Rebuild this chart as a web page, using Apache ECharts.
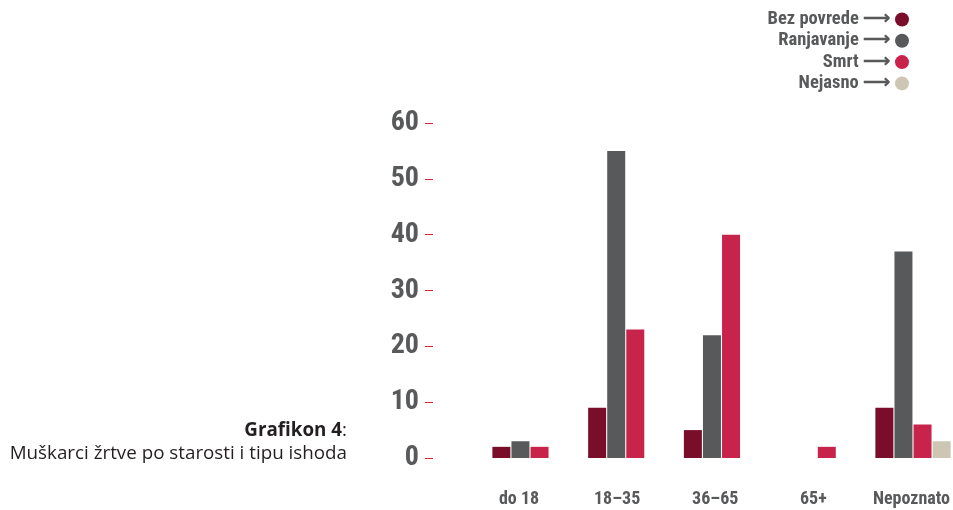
<!DOCTYPE html>
<html>
<head>
<meta charset="utf-8">
<script src="https://cdn.jsdelivr.net/npm/echarts@6/dist/echarts.min.js"></script>
<style>
  html, body { margin: 0; padding: 0; background: #fff; }
  #main { width: 953px; height: 510px; }
</style>
</head>
<body>
<div id="main"></div>
<script>
// kategorije (starost) i serije (ishod)
var categories = ['do 18', '18–35', '36–65', '65+', 'Nepoznato'];
var bezPovrede = [2, 9, 5, 0, 9];
var ranjavanje = [3, 55, 22, 0, 37];
var smrt = [2, 23, 40, 2, 6];
var nejasno = [0, 0, 0, 0, 3];
var yTicks = [0, 10, 20, 30, 40, 50, 60];

var colors = ['#7a0e2a', '#58595b', '#c8234a', '#cdc6b3'];
var condensed = '"Roboto Condensed", "Liberation Sans Narrow", Roboto, sans-serif';
var bodyFont = '"Open Sans", "Noto Sans", sans-serif';

var myChart = echarts.init(document.getElementById('main'));

function bar(name, data) {
    return {
        name: name,
        type: 'bar',
        data: data,
        barWidth: 18,
        barGap: '6%',
        clip: false,
        silent: true
    };
}

var option = {
    animation: false,
    color: colors,
    title: [{
        text: '{b|Grafikon 4}:',
        right: 601,
        top: 416,
        textStyle: {
            fontFamily: bodyFont,
            fontSize: 18.8,
            fontWeight: 'normal',
            color: '#231f20',
            rich: {
                b: { fontFamily: bodyFont, fontSize: 18.8, fontWeight: 'bold', color: '#231f20' }
            }
        }
    }, {
        text: 'Muškarci žrtve po starosti i tipu ishoda',
        right: 601,
        top: 439,
        textStyle: {
            fontFamily: bodyFont,
            fontSize: 18.8,
            fontWeight: 'normal',
            color: '#231f20'
        }
    }],
    legend: {
        orient: 'vertical',
        right: 39,
        top: 5,
        align: 'right',
        icon: 'circle',
        itemWidth: 14,
        itemHeight: 14,
        itemGap: 2.3,
        selectedMode: false,
        formatter: function (name) { return name + ' ⟶'; },
        textStyle: {
            fontFamily: condensed,
            fontWeight: 'bold',
            fontSize: 18.5,
            color: '#58595b'
        }
    },
    grid: [{
        left: 530,
        top: 123,
        width: 383,
        height: 335
    }, {
        left: 519,
        top: 123,
        width: 393,
        height: 335
    }],
    xAxis: [{
        type: 'category',
        data: categories,
        gridIndex: 0,
        boundaryGap: false,
        axisLine: { show: false },
        axisTick: { show: false },
        axisLabel: { show: false }
    }, {
        type: 'category',
        data: categories,
        gridIndex: 1,
        boundaryGap: false,
        axisLine: { show: false },
        axisTick: { show: false },
        axisLabel: {
            interval: 0,
            margin: 32,
            fontFamily: condensed,
            fontWeight: 'bold',
            fontSize: 18,
            color: '#58595b'
        }
    }],
    yAxis: [{
        type: 'value',
        gridIndex: 0,
        min: 0,
        max: 60,
        interval: 10,
        offset: 97,
        axisLine: { show: false },
        axisTick: {
            show: true,
            length: 8,
            lineStyle: { color: '#e0243a', width: 1 }
        },
        splitLine: { show: false },
        axisLabel: {
            margin: 14,
            fontFamily: condensed,
            fontWeight: 'bold',
            fontSize: 28,
            color: '#58595b',
            formatter: function (v) { return yTicks.indexOf(v) >= 0 ? String(v) : ''; }
        }
    }, {
        type: 'value',
        gridIndex: 1,
        min: 0,
        max: 60,
        show: false
    }],
    series: [
        bar('Bez povrede', bezPovrede),
        bar('Ranjavanje', ranjavanje),
        bar('Smrt', smrt),
        bar('Nejasno', nejasno)
    ]
};

myChart.setOption(option);
</script>
</body>
</html>
